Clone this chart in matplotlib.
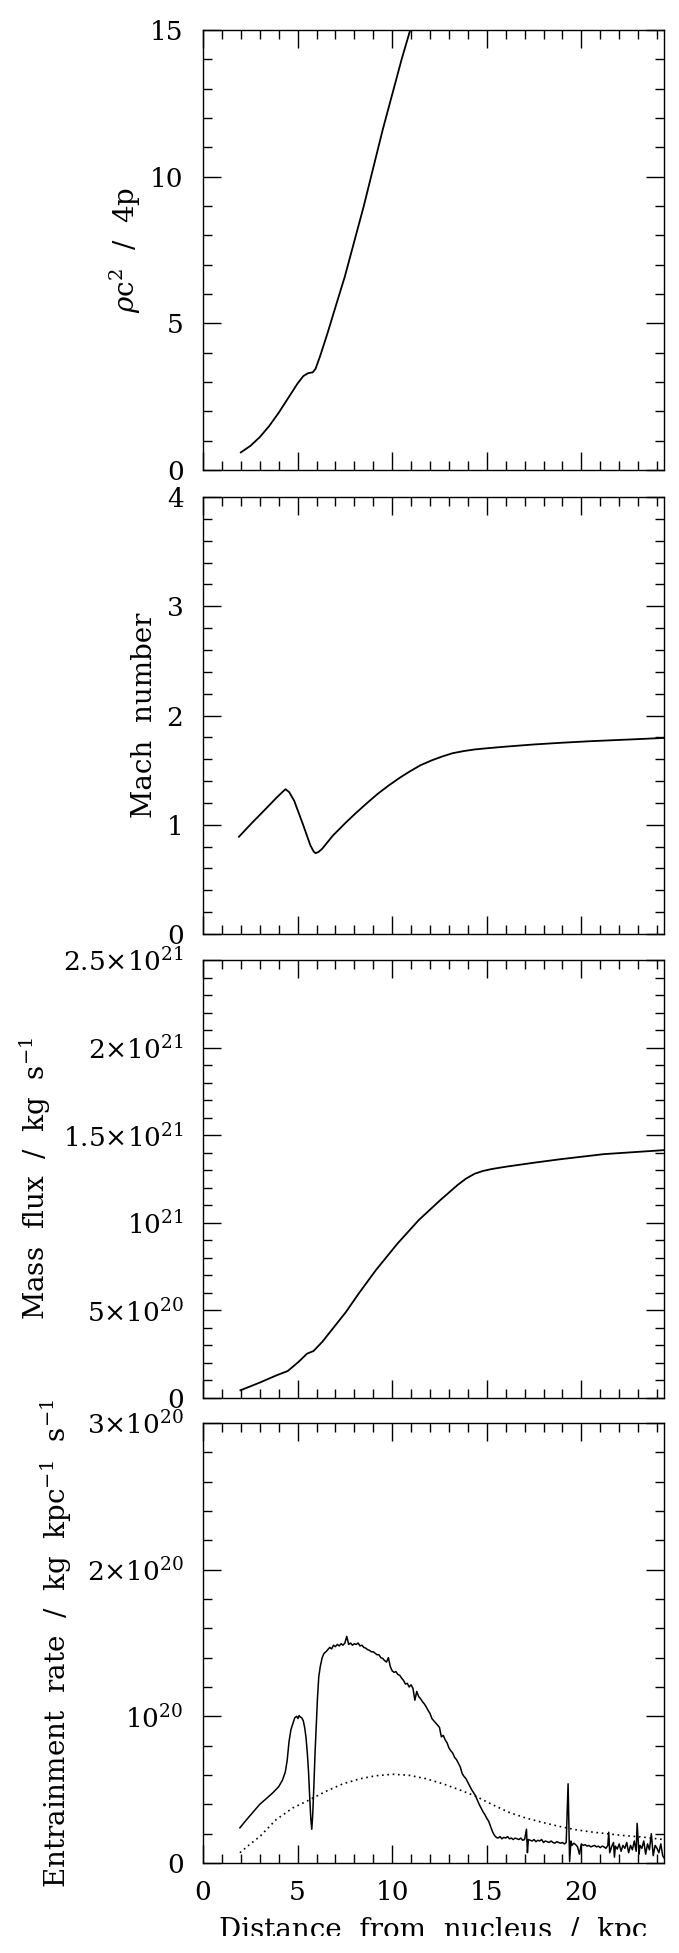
import numpy as np
import matplotlib.pyplot as plt
from matplotlib.ticker import MultipleLocator
from matplotlib.patches import Rectangle

plt.switch_backend('Agg')
plt.rcParams['font.family'] = ['DejaVu Serif']
plt.rcParams['mathtext.fontset'] = 'dejavuserif'

# ---- panel 1: rho c^2 / 4p
x_rho = [2.0, 2.5, 3.0, 3.5, 4.0, 4.5, 5.0, 5.3, 5.55, 5.8, 5.95, 6.2, 6.6, 7.0, 7.5,
         8.0, 8.5, 9.0, 9.5, 10.0, 10.5, 11.0, 11.2]
rho = [0.6, 0.82, 1.12, 1.5, 1.95, 2.45, 2.95, 3.2, 3.3, 3.33, 3.45, 3.9, 4.7, 5.55, 6.6,
       7.8, 9.0, 10.3, 11.6, 12.8, 14.0, 15.1, 15.6]

# ---- panel 2: Mach number
x_mach = [1.9, 2.55, 3.23, 3.9, 4.2, 4.36, 4.55, 4.82, 5.27, 5.68, 5.85, 5.95, 6.1, 6.3,
          6.86, 7.55, 8.1, 8.68, 9.25, 9.82, 10.4, 10.95, 11.5, 12.1, 12.65, 13.2, 13.8,
          14.4, 15.0, 16.0, 17.5, 18.9, 20.5, 22.5, 24.4]
mach = [0.89, 1.01, 1.13, 1.25, 1.30, 1.325, 1.30, 1.22, 1.01, 0.81, 0.755, 0.74, 0.75, 0.78,
        0.90, 1.02, 1.11, 1.20, 1.285, 1.36, 1.43, 1.49, 1.545, 1.59, 1.625, 1.655, 1.675,
        1.69, 1.70, 1.715, 1.735, 1.75, 1.765, 1.78, 1.795]

# ---- panel 3: mass flux (1e21 kg/s)
x_flux = [1.98, 3.0, 3.9, 4.48, 5.05, 5.5, 5.84, 6.3, 6.86, 7.55, 8.23, 9.14, 10.27,
          11.4, 12.55, 13.45, 13.9, 14.36, 14.8, 15.27, 16.0, 17.5, 18.9, 21.2, 24.4]
flux = [0.044, 0.088, 0.13, 0.154, 0.206, 0.253, 0.268, 0.32, 0.396, 0.49, 0.596,
        0.73, 0.88, 1.015, 1.13, 1.215, 1.252, 1.28, 1.296, 1.307, 1.32, 1.343, 1.363,
        1.392, 1.415]

# ---- panel 4: entrainment rate (1e20 kg/kpc/s)
x_ent = [1.95, 2.3, 2.6, 3.0, 3.4, 3.7, 4.0, 4.2, 4.35, 4.45, 4.55, 4.65, 4.75, 4.85,
         4.95, 5.02, 5.08, 5.15, 5.22, 5.3, 5.38, 5.45, 5.52, 5.58, 5.64, 5.7, 5.75,
         5.8, 5.86, 5.92, 5.98, 6.05, 6.12, 6.2, 6.3, 6.4, 6.5,
         6.6, 6.7, 6.8, 6.9, 7.0, 7.1, 7.2, 7.3, 7.4, 7.5, 7.6, 7.7, 7.8, 7.9,
         8.0, 8.1, 8.2, 8.3, 8.4, 8.5, 8.6, 8.7, 8.8, 8.9,
         9.0, 9.1, 9.2, 9.3, 9.4, 9.5, 9.6, 9.7, 9.8, 9.9,
         10.0, 10.1, 10.2, 10.3, 10.4, 10.5, 10.6, 10.7, 10.8, 10.9,
         11.0, 11.1, 11.2, 11.3, 11.4, 11.5, 11.6, 11.7, 11.8, 11.9,
         12.0, 12.1, 12.2, 12.3, 12.4, 12.5, 12.6, 12.7, 12.8, 12.9,
         13.0, 13.1, 13.2, 13.3, 13.4, 13.5, 13.6, 13.7, 13.8, 13.9,
         14.0, 14.1, 14.2, 14.3, 14.4, 14.5, 14.6, 14.7, 14.8, 14.9,
         15.0, 15.1, 15.2, 15.3, 15.4, 15.5, 15.6, 15.7, 15.8, 15.9,
         16.0, 16.1, 16.2, 16.3, 16.4, 16.5, 16.6, 16.7, 16.8, 16.9,
         17.0, 17.1, 17.15, 17.2, 17.3, 17.4, 17.5, 17.6, 17.7, 17.8, 17.9,
         18.0, 18.1, 18.2, 18.3, 18.4, 18.5, 18.6, 18.7, 18.8, 18.9,
         19.0, 19.1, 19.2, 19.3, 19.38, 19.45, 19.5, 19.6, 19.7, 19.8, 19.9,
         20.0, 20.1, 20.2, 20.3, 20.4, 20.5, 20.6, 20.7, 20.8, 20.9,
         21.0, 21.1, 21.2, 21.3, 21.4, 21.45, 21.5, 21.6, 21.7, 21.75, 21.8, 21.9,
         22.0, 22.1, 22.2, 22.3, 22.4, 22.5, 22.6, 22.7, 22.8, 22.9, 22.95,
         23.05, 23.1, 23.2, 23.3, 23.4, 23.5, 23.6, 23.7, 23.8, 23.9,
         24.0, 24.1, 24.2, 24.3, 24.4]
ent = [0.24, 0.295, 0.34, 0.40, 0.445, 0.48, 0.52, 0.565, 0.62, 0.70, 0.83, 0.91, 0.95, 0.99,
       1.0, 0.985, 1.005, 0.995, 0.99, 0.97, 0.92, 0.85, 0.74, 0.62, 0.45, 0.30, 0.23,
       0.33, 0.52, 0.74, 0.92, 1.12, 1.27, 1.34, 1.40, 1.43, 1.44,
       1.455, 1.47, 1.46, 1.485, 1.475, 1.49, 1.48, 1.495, 1.485, 1.50, 1.545, 1.49, 1.50, 1.485,
       1.495, 1.49, 1.50, 1.48, 1.485, 1.47, 1.465, 1.455, 1.45, 1.44,
       1.44, 1.43, 1.42, 1.42, 1.40, 1.395, 1.38, 1.37, 1.40, 1.34,
       1.31, 1.30, 1.305, 1.285, 1.28, 1.26, 1.245, 1.22, 1.225, 1.20,
       1.215, 1.19, 1.11, 1.17, 1.135, 1.12, 1.10, 1.085, 1.065, 1.04,
       1.02, 0.985, 0.97, 0.955, 0.94, 0.925, 0.86, 0.87, 0.84, 0.82,
       0.785, 0.765, 0.75, 0.72, 0.705, 0.68, 0.655, 0.61, 0.59, 0.575,
       0.55, 0.525, 0.50, 0.48, 0.46, 0.43, 0.40, 0.375, 0.35, 0.33,
       0.305, 0.285, 0.25, 0.215, 0.19, 0.175, 0.17, 0.18, 0.165, 0.175,
       0.17, 0.18, 0.165, 0.17, 0.16, 0.17, 0.165, 0.16, 0.17, 0.155,
       0.16, 0.23, 0.07, 0.16, 0.155, 0.15, 0.16, 0.145, 0.155, 0.15, 0.16,
       0.14, 0.15, 0.145, 0.14, 0.15, 0.14, 0.135, 0.145, 0.14, 0.135,
       0.14, 0.13, 0.14, 0.54, 0.01, 0.15, 0.12, 0.135, 0.125, 0.11, 0.06,
       0.13, 0.12, 0.125, 0.115, 0.12, 0.11, 0.115, 0.12, 0.11, 0.115,
       0.105, 0.115, 0.11, 0.10, 0.12, 0.21, 0.07, 0.11, 0.14, 0.04, 0.115, 0.095,
       0.13, 0.08, 0.12, 0.10, 0.14, 0.07, 0.12, 0.09, 0.15, 0.08, 0.27,
       0.06, 0.12, 0.10, 0.15, 0.06, 0.13, 0.09, 0.20, 0.05, 0.12,
       0.10, 0.07, 0.13, 0.05, 0.03]

x_model = [1.95, 2.5, 3.0, 3.86, 4.74, 5.62, 6.5, 7.38, 8.26, 9.14, 10.02, 10.9, 11.78,
           12.66, 13.54, 14.42, 15.3, 16.18, 17.06, 17.94, 18.82, 19.7, 20.58, 21.46,
           22.34, 23.22, 24.4]
model = [0.07, 0.13, 0.18, 0.295, 0.375, 0.43, 0.489, 0.539, 0.573, 0.595, 0.605, 0.598,
         0.575, 0.541, 0.50, 0.455, 0.398, 0.345, 0.307, 0.277, 0.25, 0.227, 0.211,
         0.198, 0.186, 0.177, 0.159]

W, H = 679, 1953
fig = plt.figure(figsize=(W / 100, H / 100), dpi=100, facecolor='white')

def make_axes(top_px, bot_px):
    return fig.add_axes([203 / W, (H - bot_px) / H, 461 / W, (bot_px - top_px) / H])

ax1 = make_axes(30, 470)
ax2 = make_axes(497, 934)
ax3 = make_axes(960, 1398)
ax4 = make_axes(1423, 1863)
axes = [ax1, ax2, ax3, ax4]

lw = 1.3
ax1.plot(x_rho, rho, color='black', lw=lw)
ax2.plot(x_mach, mach, color='black', lw=lw)
ax3.plot(x_flux, np.array(flux) * 1e21, color='black', lw=lw)
ax4.plot(x_ent, np.array(ent) * 1e20, color='black', lw=1.1)
ax4.plot(x_model, np.array(model) * 1e20, color='black', lw=1.2, ls=(0, (1, 2.2)))

ax1.set_ylim(0, 15)
ax1.yaxis.set_major_locator(MultipleLocator(5))
ax1.yaxis.set_minor_locator(MultipleLocator(1))

ax2.set_ylim(0, 4)
ax2.yaxis.set_major_locator(MultipleLocator(1))
ax2.yaxis.set_minor_locator(MultipleLocator(0.2))

ax3.set_ylim(0, 2.5e21)
ax3.set_yticks([0, 5e20, 1e21, 1.5e21, 2e21, 2.5e21],
               ['0', '5×10$^{20}$', '10$^{21}$', '1.5×10$^{21}$',
                '2×10$^{21}$', '2.5×10$^{21}$'])
ax3.yaxis.set_minor_locator(MultipleLocator(1e20))

ax4.set_ylim(0, 3e20)
ax4.set_yticks([0, 1e20, 2e20, 3e20],
               ['0', '10$^{20}$', '2×10$^{20}$', '3×10$^{20}$'])
ax4.yaxis.set_minor_locator(MultipleLocator(2e19))

for ax in axes:
    ax.set_xlim(0, 24.37)
    ax.xaxis.set_major_locator(MultipleLocator(5))
    ax.xaxis.set_minor_locator(MultipleLocator(1))
    ax.tick_params(which='both', direction='in', top=True, right=True, width=1.0,
                   labelsize=19)
    ax.tick_params(which='major', length=13)
    ax.tick_params(which='minor', length=6.5)
    ax.tick_params(axis='y', pad=14)
    ax.tick_params(axis='x', pad=12)
    for s in ax.spines.values():
        s.set_linewidth(1.0)
    if ax is not ax4:
        ax.tick_params(labelbottom=False)

ylabels = [r'$\rho$c$^2$  /  4p', 'Mach  number', r'Mass  flux  /  kg  s$^{-1}$',
           r'Entrainment  rate  /  kg  kpc$^{-1}$  s$^{-1}$']
label_x = [-0.169, -0.126, -0.364, -0.317]
for ax, lab, lx in zip(axes, ylabels, label_x):
    ax.set_ylabel(lab, fontsize=20, va='center')
    ax.yaxis.set_label_coords(lx, 0.5)

fig.text(433.5 / W, (H - 1938) / H, 'Distance  from  nucleus  /  kpc', fontsize=20,
         ha='center', va='baseline')
# bottom of the scan is cut off
fig.patches.append(Rectangle((0, 0), 1, (H - 1936) / H, transform=fig.transFigure,
                             facecolor='white', edgecolor='none', zorder=10))

fig.savefig('out.png', dpi=100, facecolor='white')
